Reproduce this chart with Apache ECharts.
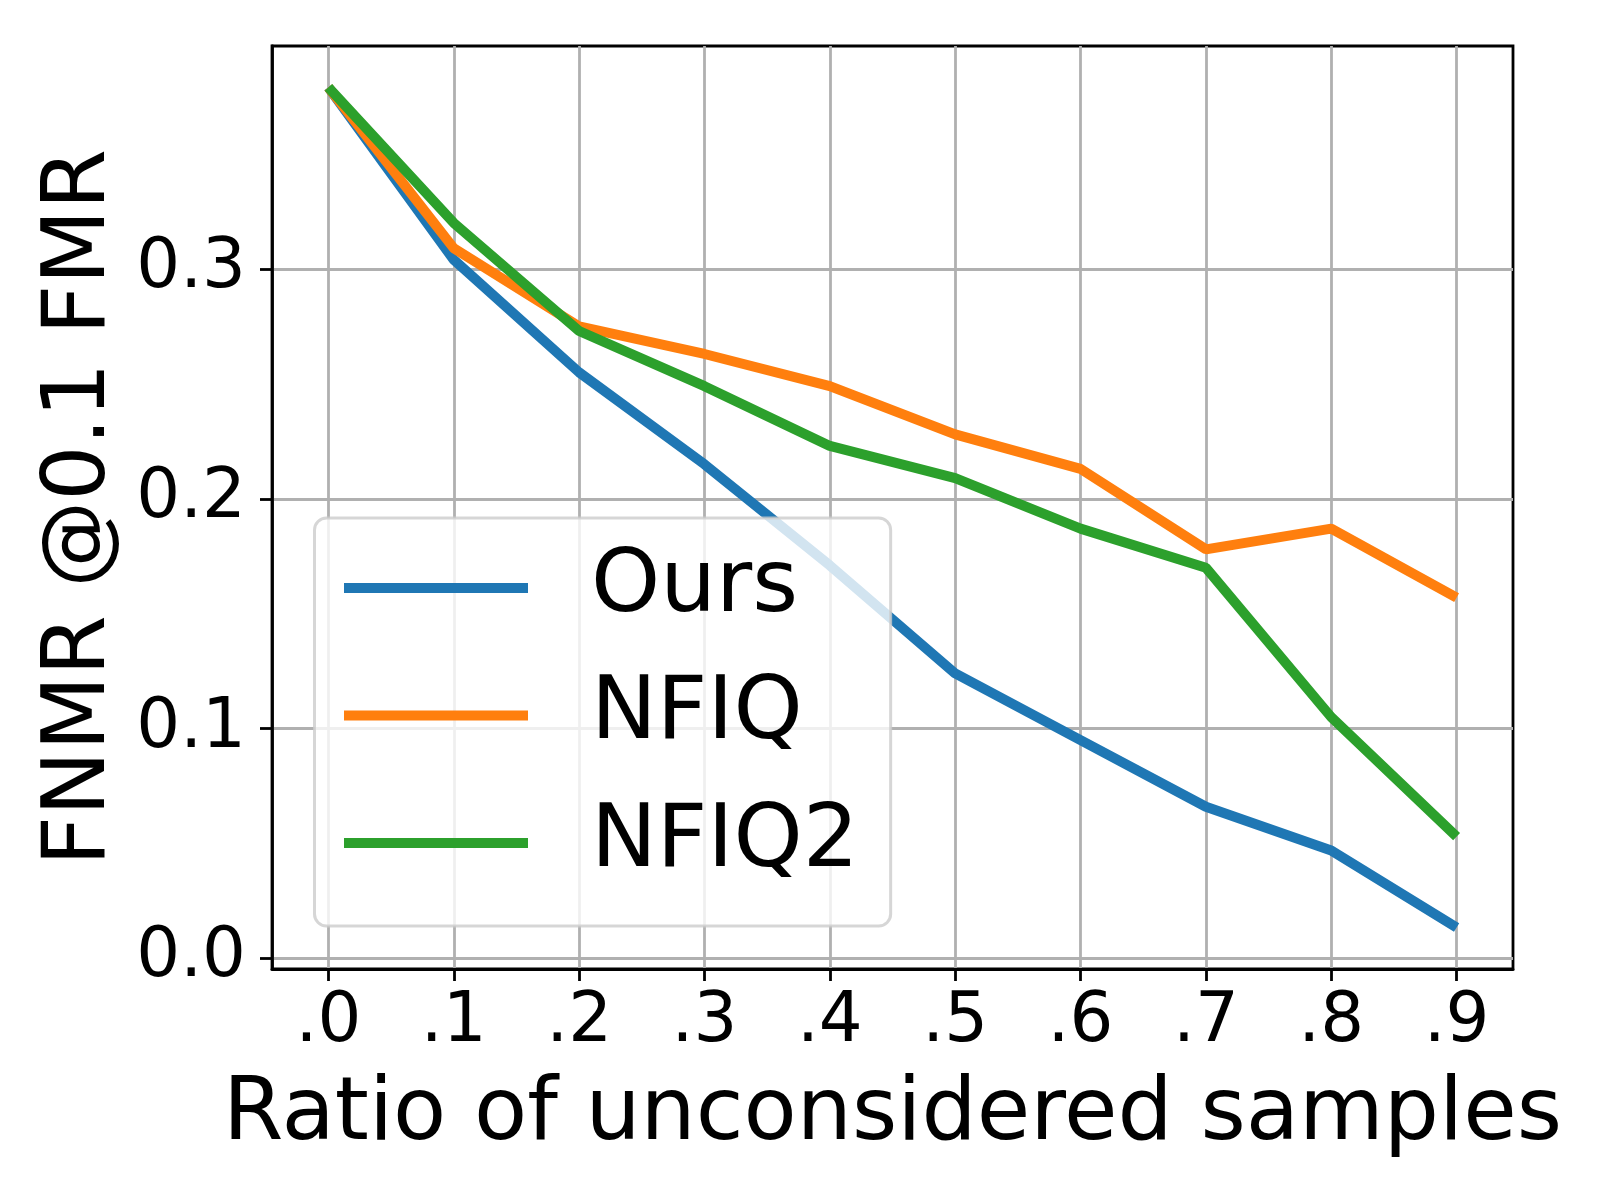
<!DOCTYPE html>
<html>
<head>
<meta charset="utf-8">
<script src="https://cdn.jsdelivr.net/npm/echarts@6/dist/echarts.min.js"></script>
<style>
  html, body { margin: 0; padding: 0; background: #ffffff; }
  #chart { width: 1600px; height: 1200px; }
</style>
</head>
<body>
<div id="chart"></div>
<script>
// ---- data ----
const ratios = [0.0, 0.1, 0.2, 0.3, 0.4, 0.5, 0.6, 0.7, 0.8, 0.9];
const xTickLabels = ['.0', '.1', '.2', '.3', '.4', '.5', '.6', '.7', '.8', '.9'];
const yTickValues = [0.0, 0.1, 0.2, 0.3];
const yTickLabels = ['0.0', '0.1', '0.2', '0.3'];
const seriesNames = ['Ours', 'NFIQ', 'NFIQ2'];
const ours  = [0.379, 0.304, 0.255, 0.215, 0.171, 0.124, 0.095, 0.066, 0.047, 0.0135];
const nfiq  = [0.379, 0.309, 0.275, 0.263, 0.249, 0.228, 0.213, 0.178, 0.187, 0.157];
const nfiq2 = [0.379, 0.320, 0.273, 0.249, 0.223, 0.209, 0.187, 0.170, 0.105, 0.053];
const xTitle = 'Ratio of unconsidered samples';
const yTitle = 'FNMR @0.1 FMR';

const colors = ['#1f77b4', '#ff7f0e', '#2ca02c'];
const FONT = 'DejaVu Sans';

function pairs(vals) { return ratios.map((x, i) => [x, vals[i]]); }
function lookup(values, labels, v) {
  const i = values.findIndex(r => Math.abs(r - v) < 1e-9);
  return i >= 0 ? labels[i] : '';
}

const chart = echarts.init(document.getElementById('chart'), null, { renderer: 'canvas' });
chart.setOption({
  animation: false,
  backgroundColor: '#ffffff',
  color: colors,
  grid: {
    left: 272, right: 87, top: 46, bottom: 231,
    show: true, borderColor: '#000000', borderWidth: 2.8, backgroundColor: 'transparent'
  },
  xAxis: {
    type: 'value',
    min: -0.045, max: 0.945,
    name: xTitle,
    nameLocation: 'middle',
    nameGap: 104,
    nameTextStyle: { fontFamily: FONT, fontSize: 87, color: '#000' },
    axisLine: { show: true, onZero: false, lineStyle: { color: '#000', width: 2.8 } },
    axisTick: { show: true, length: 12, lineStyle: { color: '#000', width: 2.8 }, customValues: ratios },
    axisLabel: {
      customValues: ratios,
      margin: 20,
      fontFamily: FONT, fontSize: 69, color: '#000',
      formatter: v => lookup(ratios, xTickLabels, v)
    },
    splitLine: { show: true, lineStyle: { color: '#b0b0b0', width: 2.8 } }
  },
  yAxis: {
    type: 'value',
    min: -0.0046, max: 0.397,
    name: yTitle,
    nameLocation: 'middle',
    nameGap: 147,
    nameTextStyle: { fontFamily: FONT, fontSize: 87, color: '#000' },
    axisLine: { show: true, onZero: false, lineStyle: { color: '#000', width: 2.8 } },
    axisTick: { show: true, length: 12, lineStyle: { color: '#000', width: 2.8 }, customValues: yTickValues },
    axisLabel: {
      customValues: yTickValues,
      margin: 26,
      fontFamily: FONT, fontSize: 69, color: '#000',
      formatter: v => lookup(yTickValues, yTickLabels, v)
    },
    splitLine: { show: true, lineStyle: { color: '#b0b0b0', width: 2.8 } }
  },
  legend: {
    show: true,
    orient: 'vertical',
    left: 314.5, top: 518,
    icon: 'rect',
    itemWidth: 184, itemHeight: 10,
    itemGap: 27.5,
    padding: [20, 32, 33, 29.5],
    backgroundColor: 'rgba(255,255,255,0.8)',
    borderColor: 'rgba(204,204,204,0.8)',
    borderWidth: 3,
    borderRadius: 12,
    textStyle: { fontFamily: FONT, fontSize: 88, lineHeight: 100, color: '#000', padding: [0, 0, 0, 58] },
    data: seriesNames
  },
  series: [
    { name: seriesNames[0], type: 'line', data: pairs(ours),  symbol: 'none', lineStyle: { width: 10, color: colors[0] }, itemStyle: { color: colors[0] } },
    { name: seriesNames[1], type: 'line', data: pairs(nfiq),  symbol: 'none', lineStyle: { width: 10, color: colors[1] }, itemStyle: { color: colors[1] } },
    { name: seriesNames[2], type: 'line', data: pairs(nfiq2), symbol: 'none', lineStyle: { width: 10, color: colors[2] }, itemStyle: { color: colors[2] } }
  ]
});
</script>
</body>
</html>
